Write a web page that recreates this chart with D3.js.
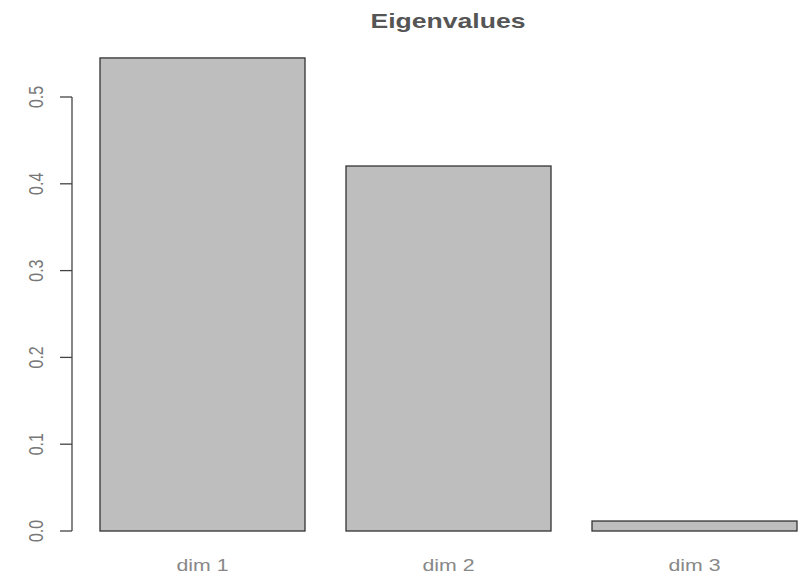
<!DOCTYPE html>
<html><head><meta charset="utf-8">
<script src="https://cdn.jsdelivr.net/npm/d3@7"></script>
<style>html,body{margin:0;padding:0;background:#fff;}svg{display:block;}</style>
</head><body>
<script>
const categories = ["dim 1", "dim 2", "dim 3"];
const values = [0.545, 0.4205, 0.0115];
const yTicks = [0.0, 0.1, 0.2, 0.3, 0.4, 0.5];
const title = "Eigenvalues";

const W = 809, H = 573;
const svg = d3.select("body").append("svg").attr("width", W).attr("height", H);

// R barplot style: width 1, space 0.2
const x = d3.scaleLinear().domain([0, 3.6]).range([59, 797]);
const y = d3.scaleLinear().domain([0, 0.5]).range([531, 97]);

svg.selectAll("rect.bar").data(values).enter().append("rect")
  .attr("class", "bar")
  .attr("x", (d, i) => x(0.2 + i * 1.2))
  .attr("width", (d, i) => x(1.2 + i * 1.2) - x(0.2 + i * 1.2))
  .attr("y", d => y(d))
  .attr("height", d => y(0) - y(d))
  .attr("fill", "#bebebe")
  .attr("stroke", "#333")
  .attr("stroke-width", 1.3);

// y axis
const axisG = svg.append("g").attr("transform", "translate(72,0)");
axisG.append("line").attr("x1", 0).attr("x2", 0).attr("y1", y(0)).attr("y2", y(0.5))
  .attr("stroke", "#444").attr("stroke-width", 1.3);
axisG.selectAll("line.tick").data(yTicks).enter().append("line")
  .attr("x1", 0).attr("x2", -12).attr("y1", d => y(d)).attr("y2", d => y(d))
  .attr("stroke", "#444").attr("stroke-width", 1.3);
axisG.selectAll("text").data(yTicks).enter().append("text")
  .attr("transform", d => `translate(-29,${y(d)}) scale(1.3,1) rotate(-90)`)
  .attr("text-anchor", "middle")
  .attr("font-family", "Liberation Sans, Arial, sans-serif")
  .attr("font-size", 16)
  .attr("fill", "#777")
  .text(d => d.toFixed(1));

// category labels
svg.selectAll("text.cat").data(categories).enter().append("text")
  .attr("class", "cat")
  .attr("x", (d, i) => x(0.7 + i * 1.2))
  .attr("y", 571)
  .attr("text-anchor", "middle")
  .attr("font-family", "Liberation Sans, Arial, sans-serif")
  .attr("font-size", 16)
  .attr("textLength", 52)
  .attr("lengthAdjust", "spacingAndGlyphs")
  .attr("fill", "#888")
  .text(d => d);

// title
svg.append("text")
  .attr("x", 448).attr("y", 28)
  .attr("text-anchor", "middle")
  .attr("font-family", "Liberation Sans, Arial, sans-serif")
  .attr("font-weight", "bold")
  .attr("font-size", 21)
  .attr("textLength", 155)
  .attr("lengthAdjust", "spacingAndGlyphs")
  .attr("fill", "#555")
  .text(title);
</script>
</body></html>
